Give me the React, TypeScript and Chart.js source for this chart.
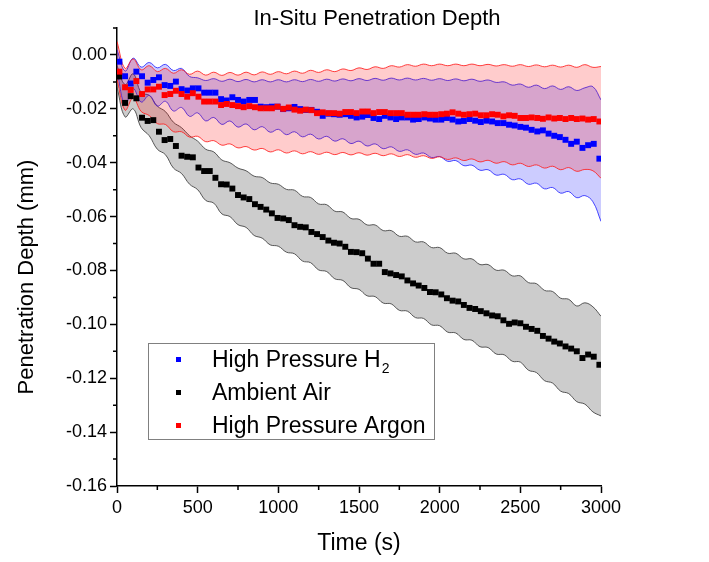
import React, { useEffect, useRef } from 'react';
import { Chart, registerables } from 'chart.js';

Chart.register(...registerables);

const FONT = '"Liberation Sans", Arial, Helvetica, sans-serif';

const chartTitle = 'In-Situ Penetration Depth';
const xAxisTitle = 'Time (s)';
const yAxisTitle = 'Penetration Depth (mm)';
const seriesNames = ['High Pressure H', 'Ambient Air', 'High Pressure Argon'];
const seriesSubscripts = ['2', '', ''];
const seriesColors = ['#0000ff', '#000000', '#ff0000'];

const xMinorTicks = [250, 750, 1250, 1750, 2250, 2750];
const yMinorTicks = [-0.15, -0.13, -0.11, -0.09, -0.07, -0.05, -0.03, -0.01, 0.01];

// measurement times (s)
const times = [
  15, 50, 85, 120, 155, 190, 225, 260, 295, 330,
  365, 400, 435, 470, 505, 540, 575, 610, 645, 680,
  715, 750, 785, 820, 855, 890, 925, 960, 995, 1030,
  1065, 1100, 1135, 1170, 1205, 1240, 1275, 1310, 1345, 1380,
  1415, 1450, 1485, 1520, 1555, 1590, 1625, 1660, 1695, 1730,
  1765, 1800, 1835, 1870, 1905, 1940, 1975, 2010, 2045, 2080,
  2115, 2150, 2185, 2220, 2255, 2290, 2325, 2360, 2395, 2430,
  2465, 2500, 2535, 2570, 2605, 2640, 2675, 2710, 2745, 2780,
  2815, 2850, 2885, 2920, 2955, 2990,
];

const h2Depth = [
  -0.0025, -0.0079, -0.0106, -0.0062, -0.0079, -0.0103, -0.0093, -0.0083, -0.0112, -0.0115,
  -0.0099, -0.0127, -0.0132, -0.0124, -0.0124, -0.0140, -0.0140, -0.0140, -0.0164, -0.0169,
  -0.0157, -0.0167, -0.0173, -0.0167, -0.0167, -0.0192, -0.0194, -0.0192, -0.0192, -0.0201,
  -0.0198, -0.0193, -0.0201, -0.0204, -0.0204, -0.0211, -0.0226, -0.0218, -0.0220, -0.0222,
  -0.0220, -0.0226, -0.0232, -0.0229, -0.0223, -0.0234, -0.0238, -0.0226, -0.0232, -0.0238,
  -0.0232, -0.0232, -0.0240, -0.0238, -0.0232, -0.0236, -0.0240, -0.0240, -0.0234, -0.0240,
  -0.0247, -0.0245, -0.0238, -0.0244, -0.0249, -0.0244, -0.0247, -0.0253, -0.0253, -0.0259,
  -0.0262, -0.0267, -0.0270, -0.0278, -0.0284, -0.0280, -0.0292, -0.0300, -0.0305, -0.0315,
  -0.0330, -0.0322, -0.0345, -0.0335, -0.0330, -0.0385,
];

const airDepth = [
  -0.0080, -0.0178, -0.0153, -0.0161, -0.0233, -0.0245, -0.0242, -0.0285, -0.0316, -0.0312,
  -0.0338, -0.0374, -0.0378, -0.0380, -0.0418, -0.0431, -0.0431, -0.0456, -0.0480, -0.0481,
  -0.0496, -0.0520, -0.0529, -0.0535, -0.0554, -0.0564, -0.0574, -0.0588, -0.0605, -0.0607,
  -0.0613, -0.0632, -0.0638, -0.0640, -0.0657, -0.0665, -0.0676, -0.0689, -0.0697, -0.0700,
  -0.0712, -0.0731, -0.0732, -0.0736, -0.0756, -0.0775, -0.0775, -0.0806, -0.0811, -0.0817,
  -0.0822, -0.0837, -0.0848, -0.0856, -0.0865, -0.0880, -0.0881, -0.0889, -0.0903, -0.0912,
  -0.0915, -0.0928, -0.0939, -0.0943, -0.0951, -0.0959, -0.0967, -0.0970, -0.0985, -0.0998,
  -0.0993, -0.0996, -0.1009, -0.1017, -0.1024, -0.1043, -0.1053, -0.1064, -0.1071, -0.1082,
  -0.1090, -0.1100, -0.1125, -0.1112, -0.1120, -0.1150,
];

const argonDepth = [
  -0.0062, -0.0120, -0.0130, -0.0097, -0.0145, -0.0128, -0.0128, -0.0118, -0.0149, -0.0145,
  -0.0133, -0.0145, -0.0155, -0.0142, -0.0155, -0.0173, -0.0173, -0.0173, -0.0186, -0.0182,
  -0.0186, -0.0190, -0.0194, -0.0190, -0.0194, -0.0198, -0.0198, -0.0198, -0.0192, -0.0200,
  -0.0195, -0.0203, -0.0207, -0.0203, -0.0205, -0.0216, -0.0213, -0.0216, -0.0216, -0.0218,
  -0.0212, -0.0212, -0.0216, -0.0210, -0.0210, -0.0216, -0.0212, -0.0212, -0.0216, -0.0216,
  -0.0216, -0.0222, -0.0222, -0.0222, -0.0220, -0.0222, -0.0222, -0.0220, -0.0218, -0.0213,
  -0.0218, -0.0222, -0.0220, -0.0218, -0.0224, -0.0224, -0.0220, -0.0222, -0.0228, -0.0224,
  -0.0226, -0.0234, -0.0234, -0.0232, -0.0234, -0.0237, -0.0232, -0.0236, -0.0234, -0.0238,
  -0.0234, -0.0238, -0.0236, -0.0240, -0.0238, -0.0247,
];

// error-band boundary times (s)
const bandTimes = [
  0, 50, 100, 150, 200, 250, 300, 350, 400, 450,
  500, 550, 600, 650, 700, 750, 800, 850, 900, 950,
  1000, 1050, 1100, 1150, 1200, 1250, 1300, 1350, 1400, 1450,
  1500, 1550, 1600, 1650, 1700, 1750, 1800, 1850, 1900, 1950,
  2000, 2050, 2100, 2150, 2200, 2250, 2300, 2350, 2400, 2450,
  2500, 2550, 2600, 2650, 2700, 2750, 2800, 2850, 2900, 2950,
  3000,
];

const h2Upper = [
  0.002, -0.006, -0.0012, -0.0045, -0.0028, -0.0048, -0.0035, -0.0058, -0.0050, -0.0080,
  -0.0085, -0.0095, -0.0088, -0.0098, -0.0090, -0.0099, -0.0091, -0.0100, -0.0092, -0.0100,
  -0.0092, -0.0100, -0.0092, -0.0099, -0.0091, -0.0098, -0.0090, -0.0097, -0.0089, -0.0096,
  -0.0088, -0.0095, -0.0087, -0.0094, -0.0086, -0.0093, -0.0086, -0.0093, -0.0087, -0.0094,
  -0.0088, -0.0095, -0.0089, -0.0096, -0.0090, -0.0098, -0.0093, -0.0102, -0.0100, -0.0112,
  -0.0108, -0.0120, -0.0112, -0.0125, -0.0115, -0.0128, -0.0118, -0.0132, -0.0122, -0.0118,
  -0.0167,
];
const h2Lower = [
  -0.006, -0.0185, -0.0125, -0.0175, -0.0150, -0.0190, -0.0172, -0.0208, -0.0195, -0.0228,
  -0.0215, -0.0245, -0.0232, -0.0258, -0.0245, -0.0268, -0.0256, -0.0278, -0.0266, -0.0287,
  -0.0276, -0.0296, -0.0285, -0.0304, -0.0294, -0.0312, -0.0302, -0.0320, -0.0311, -0.0329,
  -0.0320, -0.0338, -0.0330, -0.0348, -0.0341, -0.0358, -0.0352, -0.0369, -0.0364, -0.0381,
  -0.0377, -0.0395, -0.0392, -0.0411, -0.0409, -0.0428, -0.0426, -0.0446, -0.0443, -0.0463,
  -0.0460, -0.0480, -0.0476, -0.0497, -0.0492, -0.0513, -0.0507, -0.0530, -0.0522, -0.0545,
  -0.0618,
];
const airUpper = [
  -0.004, -0.011, -0.007, -0.014, -0.015, -0.019, -0.021, -0.025, -0.027, -0.030,
  -0.032, -0.035, -0.036, -0.039, -0.040, -0.042, -0.043, -0.045, -0.0455, -0.0475,
  -0.048, -0.0499, -0.0502, -0.0525, -0.0529, -0.0553, -0.0556, -0.0580, -0.0583, -0.0607,
  -0.0610, -0.0631, -0.0631, -0.0652, -0.0652, -0.0673, -0.0673, -0.0694, -0.0694, -0.0715,
  -0.0715, -0.0736, -0.0736, -0.0757, -0.0757, -0.0778, -0.0778, -0.0799, -0.0799, -0.0820,
  -0.0820, -0.0845, -0.0849, -0.0874, -0.0878, -0.0903, -0.0907, -0.0932, -0.0920, -0.0935,
  -0.0970,
];
const airLower = [
  -0.012, -0.023, -0.020, -0.027, -0.030, -0.035, -0.037, -0.042, -0.044, -0.048,
  -0.050, -0.054, -0.055, -0.059, -0.060, -0.063, -0.064, -0.067, -0.068, -0.0705,
  -0.071, -0.0732, -0.0738, -0.0765, -0.0771, -0.0798, -0.0804, -0.0831, -0.0837, -0.0864,
  -0.0870, -0.0894, -0.0897, -0.0921, -0.0924, -0.0948, -0.0951, -0.0975, -0.0978, -0.1002,
  -0.1005, -0.1029, -0.1032, -0.1056, -0.1059, -0.1083, -0.1086, -0.1110, -0.1113, -0.1137,
  -0.1140, -0.1170, -0.1179, -0.1209, -0.1218, -0.1248, -0.1257, -0.1287, -0.1296, -0.1325,
  -0.1340,
];
const argonUpper = [
  0.005, -0.005, -0.0015, -0.0055, -0.004, -0.0062, -0.005, -0.0068, -0.0055, -0.0072,
  -0.006, -0.0075, -0.0064, -0.0076, -0.0065, -0.0075, -0.0064, -0.0074, -0.0063, -0.0072,
  -0.0062, -0.0070, -0.0060, -0.0068, -0.0057, -0.0065, -0.0055, -0.0062, -0.0052, -0.0058,
  -0.0048, -0.0054, -0.0044, -0.0050, -0.0040, -0.0045, -0.0036, -0.0042, -0.0034, -0.0040,
  -0.0034, -0.0040, -0.0034, -0.0040, -0.0034, -0.0040, -0.0035, -0.0041, -0.0036, -0.0042,
  -0.0036, -0.0043, -0.0037, -0.0044, -0.0038, -0.0045, -0.0038, -0.0046, -0.0036, -0.0046,
  -0.0043,
];
const argonLower = [
  -0.009, -0.0205, -0.016, -0.021, -0.0225, -0.0255, -0.0258, -0.0285, -0.0285, -0.0305,
  -0.0302, -0.0322, -0.0318, -0.0335, -0.0330, -0.0345, -0.0340, -0.0353, -0.0347, -0.0360,
  -0.0352, -0.0364, -0.0356, -0.0367, -0.0359, -0.0369, -0.0361, -0.0370, -0.0362, -0.0371,
  -0.0363, -0.0372, -0.0365, -0.0374, -0.0367, -0.0377, -0.0370, -0.0380, -0.0374, -0.0384,
  -0.0378, -0.0388, -0.0382, -0.0392, -0.0386, -0.0397, -0.0391, -0.0402, -0.0396, -0.0408,
  -0.0402, -0.0414, -0.0408, -0.0420, -0.0413, -0.0426, -0.0418, -0.0432, -0.0425, -0.0430,
  -0.0458,
];

const pts = (xs: number[], ys: number[]) => xs.map((x, i) => ({ x, y: ys[i] }));

const decorPlugin = {
  id: 'decor',
  afterDraw(chart: any) {
    const ctx = chart.ctx as CanvasRenderingContext2D;
    const { left, right, bottom } = chart.chartArea;
    const xs = chart.scales.x;
    const ys = chart.scales.y;
    ctx.save();
    // minor ticks
    ctx.strokeStyle = '#000';
    ctx.lineWidth = 1.5;
    ctx.beginPath();
    yMinorTicks.forEach((v) => {
      const py = ys.getPixelForValue(v);
      ctx.moveTo(left, py);
      ctx.lineTo(left - 4, py);
    });
    xMinorTicks.forEach((v) => {
      const px = xs.getPixelForValue(v);
      ctx.moveTo(px, bottom);
      ctx.lineTo(px, bottom + 4);
    });
    ctx.stroke();

    // titles
    ctx.fillStyle = '#000';
    ctx.textAlign = 'center';
    ctx.textBaseline = 'middle';
    ctx.font = `22px ${FONT}`;
    ctx.fillText(chartTitle, 377, 19);
    ctx.font = `23px ${FONT}`;
    ctx.fillText(xAxisTitle, (left + right) / 2, 544);
    ctx.save();
    ctx.translate(27, 277);
    ctx.rotate(-Math.PI / 2);
    ctx.font = `22px ${FONT}`;
    ctx.fillText(yAxisTitle, 0, 0);
    ctx.restore();

    // legend
    ctx.fillStyle = '#fff';
    ctx.fillRect(148, 343, 287, 97);
    ctx.strokeStyle = '#808080';
    ctx.lineWidth = 1;
    ctx.strokeRect(148.5, 343.5, 286, 96);
    const baselines = [367, 400, 433];
    seriesNames.forEach((name, i) => {
      const by = baselines[i];
      ctx.fillStyle = seriesColors[i];
      ctx.fillRect(176, by - 10, 5, 5);
      ctx.fillStyle = '#000';
      ctx.textAlign = 'left';
      ctx.textBaseline = 'alphabetic';
      ctx.font = `23px ${FONT}`;
      ctx.fillText(name, 212, by);
      if (seriesSubscripts[i]) {
        const w = ctx.measureText(name).width;
        ctx.font = `14px ${FONT}`;
        ctx.fillText(seriesSubscripts[i], 212 + w + 1, by + 6);
      }
    });
    ctx.restore();
  },
};

export default function App() {
  const canvasRef = useRef<HTMLCanvasElement | null>(null);

  useEffect(() => {
    if (!canvasRef.current) return;
    const bandLine = (color: string) => ({
      borderColor: color,
      borderWidth: 1,
      pointRadius: 0,
      tension: 0.4,
      showLine: true,
    });
    const marker = (color: string, order: number) => ({
      showLine: false,
      pointStyle: 'rect',
      pointRadius: 4.2,
      pointBackgroundColor: color,
      pointBorderWidth: 0,
      order,
    });
    const chart = new Chart(canvasRef.current, {
      type: 'line',
      data: {
        datasets: [
          { label: 'H2', data: pts(times, h2Depth), ...marker(seriesColors[0], 1) },
          { label: 'Air', data: pts(times, airDepth), ...marker(seriesColors[1], 2) },
          { label: 'Argon', data: pts(times, argonDepth), ...marker(seriesColors[2], 0) },
          { label: 'airU', data: pts(bandTimes, airUpper), ...bandLine('rgba(70,70,70,0.9)'), fill: false, order: 5 },
          { label: 'airL', data: pts(bandTimes, airLower), ...bandLine('rgba(70,70,70,0.9)'), fill: '-1', backgroundColor: 'rgba(0,0,0,0.2)', order: 5 },
          { label: 'h2U', data: pts(bandTimes, h2Upper), ...bandLine('rgba(40,40,255,0.85)'), fill: false, order: 4 },
          { label: 'h2L', data: pts(bandTimes, h2Lower), ...bandLine('rgba(40,40,255,0.85)'), fill: '-1', backgroundColor: 'rgba(0,0,255,0.2)', order: 4 },
          { label: 'arU', data: pts(bandTimes, argonUpper), ...bandLine('rgba(255,30,30,0.85)'), fill: false, order: 3 },
          { label: 'arL', data: pts(bandTimes, argonLower), ...bandLine('rgba(255,30,30,0.85)'), fill: '-1', backgroundColor: 'rgba(255,0,0,0.2)', order: 3 },
        ] as any,
      },
      options: {
        animation: false,
        responsive: false,
        devicePixelRatio: 1,
        layout: { padding: { left: 0, right: 108, top: 28, bottom: 0 } },
        plugins: {
          legend: { display: false },
          tooltip: { enabled: false },
          title: { display: false },
        },
        scales: {
          x: {
            type: 'linear',
            min: 0,
            max: 3000,
            ticks: {
              stepSize: 500,
              includeBounds: false,
              maxRotation: 0,
              padding: 4,
              color: '#000',
              font: { family: FONT, size: 18 },
              callback: (v: any) => String(Math.round(Number(v))),
            },
            grid: { drawOnChartArea: false, drawTicks: true, tickLength: 7, tickWidth: 1.5, tickColor: '#000' },
            border: { display: true, color: '#000', width: 1.5 },
            afterFit: (s: any) => {
              s.height = 76;
            },
          },
          y: {
            type: 'linear',
            min: -0.16,
            max: 0.01,
            ticks: {
              stepSize: 0.02,
              includeBounds: false,
              padding: 3,
              color: '#000',
              font: { family: FONT, size: 18 },
              callback: (v: any) => Number(v).toFixed(2),
            },
            grid: { drawOnChartArea: false, drawTicks: true, tickLength: 7, tickWidth: 1.5, tickColor: '#000' },
            border: { display: true, color: '#000', width: 1.5 },
            afterFit: (s: any) => {
              s.width = 117;
            },
          },
        },
      } as any,
      plugins: [decorPlugin],
    });
    return () => chart.destroy();
  }, []);

  return (
    <div style={{ position: 'absolute', left: 0, top: 0, width: 709, height: 562, background: '#fff' }}>
      <canvas ref={canvasRef} width={709} height={562} style={{ display: 'block' }} />
    </div>
  );
}
